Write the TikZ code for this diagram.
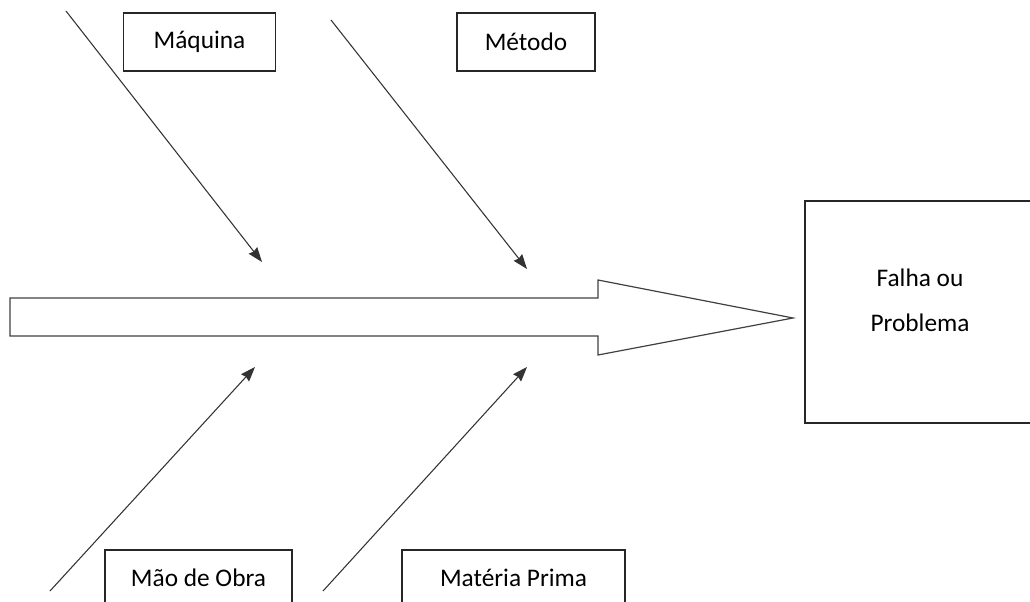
\documentclass[tikz,border=0pt]{standalone}
\usepackage{fontspec}
\setmainfont{Carlito}
\usepackage{tikz}
\usetikzlibrary{calc, positioning, arrows.meta}

\begin{document}
\begin{tikzpicture}[x=0.75pt, y=-0.75pt, >={Stealth[length=11pt, width=8pt, inset=1pt]},
    caixa/.style={draw=black!85, line width=1pt, inner sep=0pt, font=\fontsize{19}{23}\selectfont},
    espinha/.style={->, draw=black!80, line width=0.8pt}]

    % =================================================================
    % 1. AREA DO DESENHO
    % =================================================================
    \useasboundingbox (0,0) rectangle (1030,602);
    \clip (0,0) rectangle (1030,602);

    % =================================================================
    % 2. SETA PRINCIPAL (ESPINHA DORSAL)
    % =================================================================
    \draw[draw=black!75, line width=0.9pt]
        (10,298) -- (598,298) -- (598,280) -- (793,318) -- (598,355)
        -- (598,336) -- (10,336) -- cycle;

    % =================================================================
    % 3. CAIXAS DAS CAUSAS E DO EFEITO
    % =================================================================
    \node[caixa, minimum width=114pt, minimum height=43.5pt] (maquina) at (199.5,42) {Máquina};
    \node[caixa, minimum width=103.5pt, minimum height=43.5pt] (metodo) at (526,42) {Método};
    \node[caixa, minimum width=140.25pt, minimum height=42pt] (maoobra) at (198.5,578) {Mão de Obra};
    \node[caixa, minimum width=167.25pt, minimum height=42pt] (materia) at (513.5,578) {Matéria Prima};

    % Caixa do problema (lado direito cortado pela borda)
    \node[caixa, minimum width=172.5pt, minimum height=166.5pt] (falha) at (920,312) {};
    \node[font=\fontsize{19}{23}\selectfont, align=center] (texto) at ([yshift=12*0.75pt]falha.center)
        {Falha ou\\[10.5pt]Problema};

    % =================================================================
    % 4. SETAS DIAGONAIS
    % =================================================================
    \coordinate (a1) at (66,11);
    \coordinate (a2) at (262,262);
    \coordinate (b1) at (331,20);
    \coordinate (b2) at (527,269);
    \coordinate (c1) at (50,591);
    \coordinate (c2) at (255,367);
    \coordinate (d1) at (323,591);
    \coordinate (d2) at (527,367);

    \draw[espinha] (a1) -- (a2);
    \draw[espinha] (b1) -- (b2);
    \draw[espinha] (c1) -- (c2);
    \draw[espinha] (d1) -- (d2);

\end{tikzpicture}
\end{document}
